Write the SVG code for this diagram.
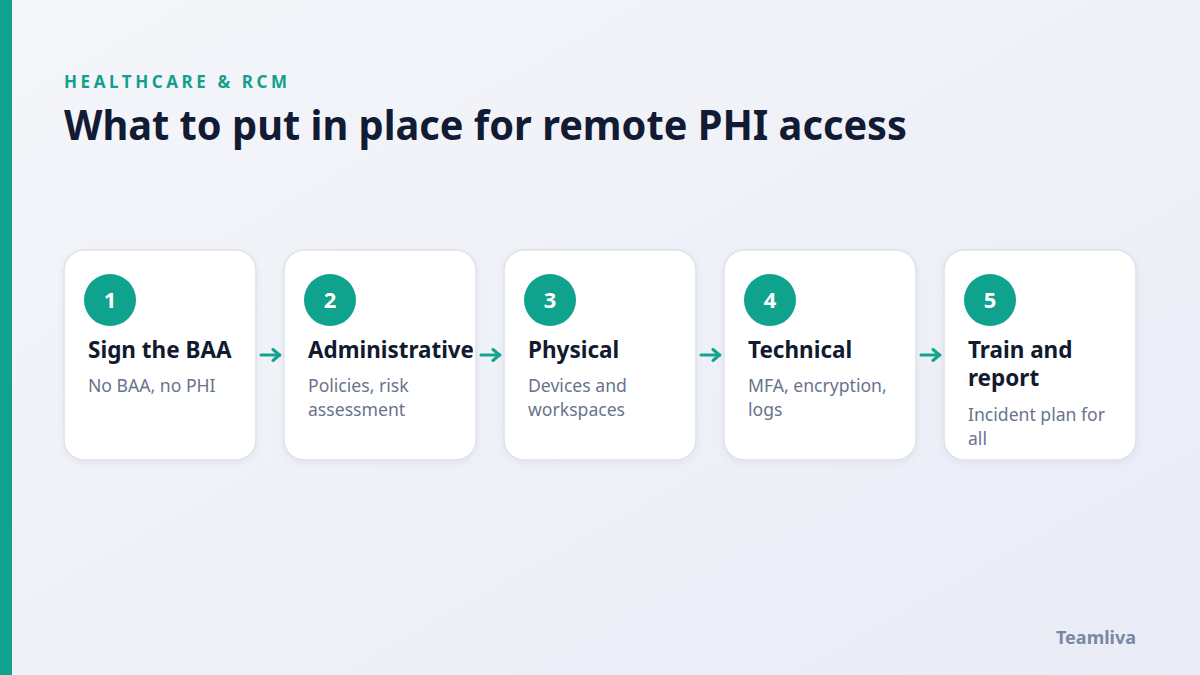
<svg xmlns="http://www.w3.org/2000/svg" width="1200" height="675" viewBox="0 0 1200 675">
<defs>
<linearGradient id="bg" x1="0" y1="0" x2="1" y2="1">
<stop offset="0" stop-color="#f5f6fa"/>
<stop offset="1" stop-color="#e9ecf6"/>
</linearGradient>
<filter id="sh" x="-10%" y="-10%" width="120%" height="130%">
<feDropShadow dx="0" dy="2" stdDeviation="3" flood-color="#1a2a50" flood-opacity="0.06"/>
</filter>
<marker id="ah" viewBox="0 0 12 14" refX="10" refY="7" markerWidth="12" markerHeight="14" markerUnits="userSpaceOnUse" orient="auto">
<path d="M3,1.5 L9.5,7 L3,12.5" fill="none" stroke="#14a38f" stroke-width="3" stroke-linecap="round" stroke-linejoin="round"/>
</marker>
<style>
.card{fill:#ffffff;stroke:#dde2ec;stroke-width:1.5;filter:url(#sh)}
.num{fill:#0fa28d}
.numt{font-family:"Noto Sans","Open Sans",sans-serif;font-weight:700;font-size:22px;fill:#ffffff;text-anchor:middle}
.ttl{font-family:"Noto Sans","Open Sans",sans-serif;font-weight:700;font-size:22.5px;fill:#121a30}
.dsc{font-family:"Noto Sans","Open Sans",sans-serif;font-size:17.6px;fill:#68738c}
.conn{stroke:#14a38f;stroke-width:3;fill:none;stroke-linecap:round}
</style>
</defs>
<rect width="1200" height="675" fill="url(#bg)"/>
<rect x="0" y="0" width="12" height="675" fill="#0fa28d"/>
<text x="64" y="88" font-family="'Noto Sans','Open Sans',sans-serif" font-weight="700" font-size="17" letter-spacing="3" fill="#12a08c" textLength="226" lengthAdjust="spacing">HEALTHCARE &amp; RCM</text>
<text x="64" y="140" font-family="'Noto Sans','Open Sans',sans-serif" font-weight="700" font-size="42" fill="#111b33" textLength="843" lengthAdjust="spacingAndGlyphs">What to put in place for remote PHI access</text>

<g id="node1">
<rect class="card" x="64" y="250" width="192" height="210" rx="20"/>
<circle class="num" cx="110" cy="300" r="26"/>
<text class="numt" x="110" y="308">1</text>
<text class="ttl" x="88" y="358">Sign the BAA</text>
<text class="dsc" x="88" y="392">No BAA, no PHI</text>
</g>
<g id="node2">
<rect class="card" x="284" y="250" width="192" height="210" rx="20"/>
<circle class="num" cx="330" cy="300" r="26"/>
<text class="numt" x="330" y="308">2</text>
<text class="ttl" x="308" y="358" textLength="166" lengthAdjust="spacingAndGlyphs">Administrative</text>
<text class="dsc" x="308" y="392">Policies, risk</text>
<text class="dsc" x="308" y="416">assessment</text>
</g>
<g id="node3">
<rect class="card" x="504" y="250" width="192" height="210" rx="20"/>
<circle class="num" cx="550" cy="300" r="26"/>
<text class="numt" x="550" y="308">3</text>
<text class="ttl" x="528" y="358">Physical</text>
<text class="dsc" x="528" y="392">Devices and</text>
<text class="dsc" x="528" y="416">workspaces</text>
</g>
<g id="node4">
<rect class="card" x="724" y="250" width="192" height="210" rx="20"/>
<circle class="num" cx="770" cy="300" r="26"/>
<text class="numt" x="770" y="308">4</text>
<text class="ttl" x="748" y="358">Technical</text>
<text class="dsc" x="748" y="392">MFA, encryption,</text>
<text class="dsc" x="748" y="416">logs</text>
</g>
<g id="node5">
<rect class="card" x="944" y="250" width="192" height="210" rx="20"/>
<circle class="num" cx="990" cy="300" r="26"/>
<text class="numt" x="990" y="308">5</text>
<text class="ttl" x="968" y="358">Train and</text>
<text class="ttl" x="968" y="386">report</text>
<text class="dsc" x="968" y="421">Incident plan for</text>
<text class="dsc" x="968" y="445">all</text>
</g>

<g id="connectors">
<line class="conn" x1="261" y1="355" x2="280" y2="355" marker-end="url(#ah)"/>
<line class="conn" x1="481" y1="355" x2="500" y2="355" marker-end="url(#ah)"/>
<line class="conn" x1="701" y1="355" x2="720" y2="355" marker-end="url(#ah)"/>
<line class="conn" x1="921" y1="355" x2="940" y2="355" marker-end="url(#ah)"/>
</g>

<text x="1136" y="644" text-anchor="end" font-family="'Noto Sans','Open Sans',sans-serif" font-weight="700" font-size="18" fill="#7a88a3">Teamliva</text>
</svg>
